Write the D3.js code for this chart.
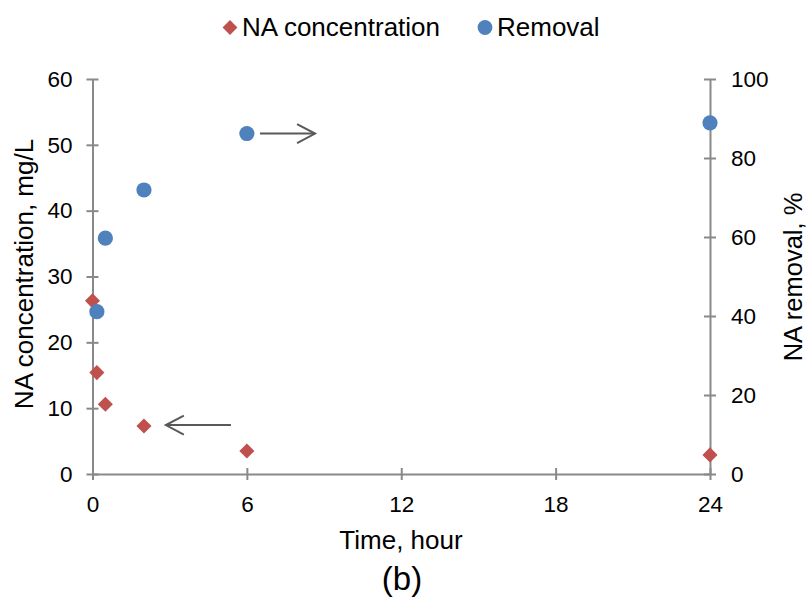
<!DOCTYPE html>
<html>
<head>
<meta charset="utf-8">
<script src="https://cdn.jsdelivr.net/npm/d3@7"></script>
<style>
  body { margin: 0; background: #fff; }
  svg text { font-family: "Liberation Sans", Arial, sans-serif; fill: #000; }
</style>
</head>
<body>
<div id="chart"></div>
<script>
// 데이터
const concTime = [0, 0.17, 0.5, 2, 6, 24];
const concValues = [26.3, 15.4, 10.6, 7.3, 3.5, 2.9];
const removalTime = [0.17, 0.5, 2, 6, 24];
const removalValues = [41.1, 59.7, 71.9, 86.2, 88.9];
const xTicks = [0, 6, 12, 18, 24];
const leftTicks = [0, 10, 20, 30, 40, 50, 60];
const rightTicks = [0, 20, 40, 60, 80, 100];
// 화살표 (데이터 좌표)
const arrows = [
    { axis: 'right', from: 6.51, to: 8.65, value: 86.2 },
    { axis: 'left', from: 5.38, to: 2.85, value: 7.44 }
];

const width = 809, height = 597;
const red = '#C0504D', blue = '#4F81BD', axisColor = '#898989';

const svg = d3.select('#chart').append('svg')
    .attr('width', width)
    .attr('height', height);

const x = d3.scaleLinear().domain([0, 24]).range([92.5, 710]);
const yLeft = d3.scaleLinear().domain([0, 60]).range([474, 79]);
const yRight = d3.scaleLinear().domain([0, 100]).range([474, 79]);

// 축 그리기
function styleAxis(g, crossAttr) {
    g.select('.domain').attr('stroke', axisColor).attr('stroke-width', 2);
    g.selectAll('.tick line').attr('stroke', axisColor).attr('stroke-width', 2)
        .attr(crossAttr + '1', -6).attr(crossAttr + '2', 6);
    g.selectAll('.tick text').attr('font-size', 22.5).attr('fill', '#000');
}

svg.append('g')
    .attr('transform', 'translate(0,474)')
    .call(d3.axisBottom(x).tickValues(xTicks).tickSize(6).tickSizeOuter(0).tickPadding(16))
    .call(g => styleAxis(g, 'y'));

svg.append('g')
    .attr('transform', 'translate(92.5,0)')
    .call(d3.axisLeft(yLeft).tickValues(leftTicks).tickSize(6).tickSizeOuter(0).tickPadding(14))
    .call(g => styleAxis(g, 'x'));

svg.append('g')
    .attr('transform', 'translate(710,0)')
    .call(d3.axisRight(yRight).tickValues(rightTicks).tickSize(6).tickSizeOuter(0).tickPadding(15))
    .call(g => styleAxis(g, 'x'));

svg.selectAll('.tick text').attr('font-family', '"Liberation Sans", Arial, sans-serif');

// 화살표
arrows.forEach(a => {
    const y = a.axis === 'right' ? yRight(a.value) : yLeft(a.value);
    const x1 = x(a.from), x2 = x(a.to);
    const dir = Math.sign(x2 - x1);
    const g = svg.append('g').attr('stroke', '#595959').attr('stroke-width', 2).attr('fill', 'none');
    g.append('line').attr('x1', x1).attr('y1', y).attr('x2', x2).attr('y2', y);
    g.append('polyline')
        .attr('points', `${x2 - dir * 18},${y - 9.5} ${x2},${y} ${x2 - dir * 18},${y + 9.5}`);
});

// 마커
const diamond = d3.symbol().type(d3.symbolDiamond2).size(145);

svg.append('g').selectAll('path')
    .data(concTime.map((t, i) => ({ t, v: concValues[i] })))
    .join('path')
    .attr('d', diamond)
    .attr('transform', d => `translate(${x(d.t)},${yLeft(d.v)})`)
    .attr('fill', red);

svg.append('g').selectAll('circle')
    .data(removalTime.map((t, i) => ({ t, v: removalValues[i] })))
    .join('circle')
    .attr('cx', d => x(d.t))
    .attr('cy', d => yRight(d.v))
    .attr('r', 7.6)
    .attr('fill', blue);

// 축 제목
svg.append('text')
    .attr('transform', 'translate(33,274) rotate(-90)')
    .attr('text-anchor', 'middle')
    .attr('font-size', 26)
    .text('NA concentration, mg/L');

svg.append('text')
    .attr('transform', 'translate(802,277) rotate(-90)')
    .attr('text-anchor', 'middle')
    .attr('font-size', 25.5)
    .text('NA removal, %');

svg.append('text')
    .attr('x', 401).attr('y', 549)
    .attr('text-anchor', 'middle')
    .attr('font-size', 26)
    .text('Time, hour');

svg.append('text')
    .attr('x', 402).attr('y', 590)
    .attr('text-anchor', 'middle')
    .attr('font-size', 33)
    .text('(b)');

// 범례
const legend = svg.append('g');
legend.append('path')
    .attr('d', d3.symbol().type(d3.symbolDiamond2).size(140))
    .attr('transform', 'translate(230,27.5)')
    .attr('fill', red);
legend.append('text').attr('x', 242).attr('y', 36).attr('font-size', 26).text('NA concentration');
legend.append('circle').attr('cx', 485).attr('cy', 27.5).attr('r', 7.4).attr('fill', blue);
legend.append('text').attr('x', 497).attr('y', 36).attr('font-size', 26).text('Removal');
</script>
</body>
</html>
